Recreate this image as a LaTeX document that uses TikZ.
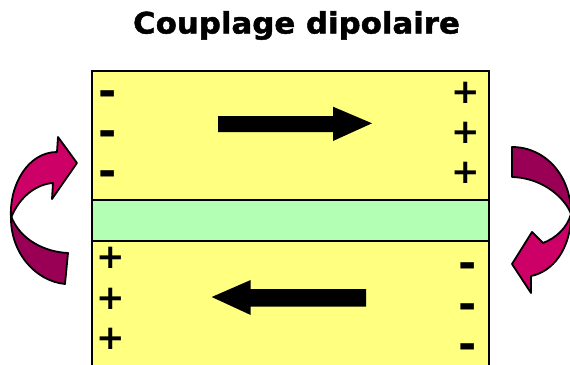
\documentclass[tikz,border=0pt]{standalone}
\usepackage{fontspec}
\setmainfont{DejaVu Sans}
\newfontfamily\heavyfont{DejaVu Sans}[FakeBold=1.5]
\definecolor{yel}{RGB}{255,255,128}
\definecolor{grn}{RGB}{179,255,179}
\definecolor{magl}{RGB}{204,0,102}
\definecolor{magd}{RGB}{153,0,85}
\begin{document}
\begin{tikzpicture}[x=1pt,y=-1pt,
  layer/.style={draw=black,line width=2pt},
  bigarrow/.style={fill=black},
  curvy/.style={draw=black,line width=1.8pt,line join=round},
  signp/.style={font=\bfseries\fontsize{34}{34}\selectfont,inner sep=0,anchor=base},
  signm/.style={font=\bfseries\fontsize{44}{44}\selectfont,inner sep=0,anchor=base},
  titletext/.style={font=\heavyfont\bfseries\fontsize{29.5}{30}\selectfont,inner sep=0,anchor=base}]
\useasboundingbox (0,0) rectangle (570,364);
\fill[white] (0,0) rectangle (570,364);
\clip (0,0) rectangle (570,364);
% title
\node[titletext] (title) at (296.5,33.5) {\scalebox{1.045}[1]{Couplage dipolaire}};
% layers
\draw[layer,fill=yel] (91.7,71) rectangle (488.7,200);
\draw[layer,fill=grn] (91.7,200) rectangle (488.7,241);
\draw[layer,fill=yel] (91.7,241) rectangle (488.7,368);
% straight arrows
\fill[bigarrow] (218,116) -- (333,116) -- (333,106.7) -- (372,123.3) -- (333,141) -- (333,132) -- (218,132) -- cycle;
\fill[bigarrow] (366,289) -- (250.7,289) -- (250.7,280) -- (211.7,297) -- (250.7,315) -- (250.7,306.7) -- (366,306.7) -- cycle;
% signs
\node[signm] (tl1) at (108,106) {-};
\node[signm] (tl2) at (108,146) {-};
\node[signm] (tl3) at (108,186) {-};
\node[signp] (tr1) at (466,103) {+};
\node[signp] (tr2) at (466,143) {+};
\node[signp] (tr3) at (466,183) {+};
\node[signp] (bl1) at (111,268) {+};
\node[signp] (bl2) at (111,309) {+};
\node[signp] (bl3) at (111,349) {+};
\node[signm] (br1) at (468,278) {-};
\node[signm] (br2) at (468,319) {-};
\node[signm] (br3) at (468,359.5) {-};
% left curved arrow: back band
\filldraw[curvy,fill=magd] (11,216) .. controls (10,252) and (35,281) .. (65,284)
  -- (68,253) .. controls (45,252) and (20,240) .. (11,216) -- cycle;
% left curved arrow: front band with head
\filldraw[curvy,fill=magl] (11,218) .. controls (9,185) and (28,152) .. (57,152)
  -- (58,137) -- (77,163) -- (52,199) -- (53,183)
  .. controls (38,184) and (20,195) .. (11,218) -- cycle;
% right curved arrow: back band
\filldraw[curvy,fill=magd] (512,147) .. controls (545,147) and (571,175) .. (571,214)
  .. controls (566,200) and (545,178) .. (512,177) -- cycle;
% right curved arrow: front band with head
\filldraw[curvy,fill=magl] (571,214) .. controls (571,250) and (552,272) .. (531,276)
  -- (531,293) -- (512,264) -- (532,232) -- (543,243)
  .. controls (556,238) and (567,228) .. (571,214) -- cycle;
\end{tikzpicture}
\end{document}
